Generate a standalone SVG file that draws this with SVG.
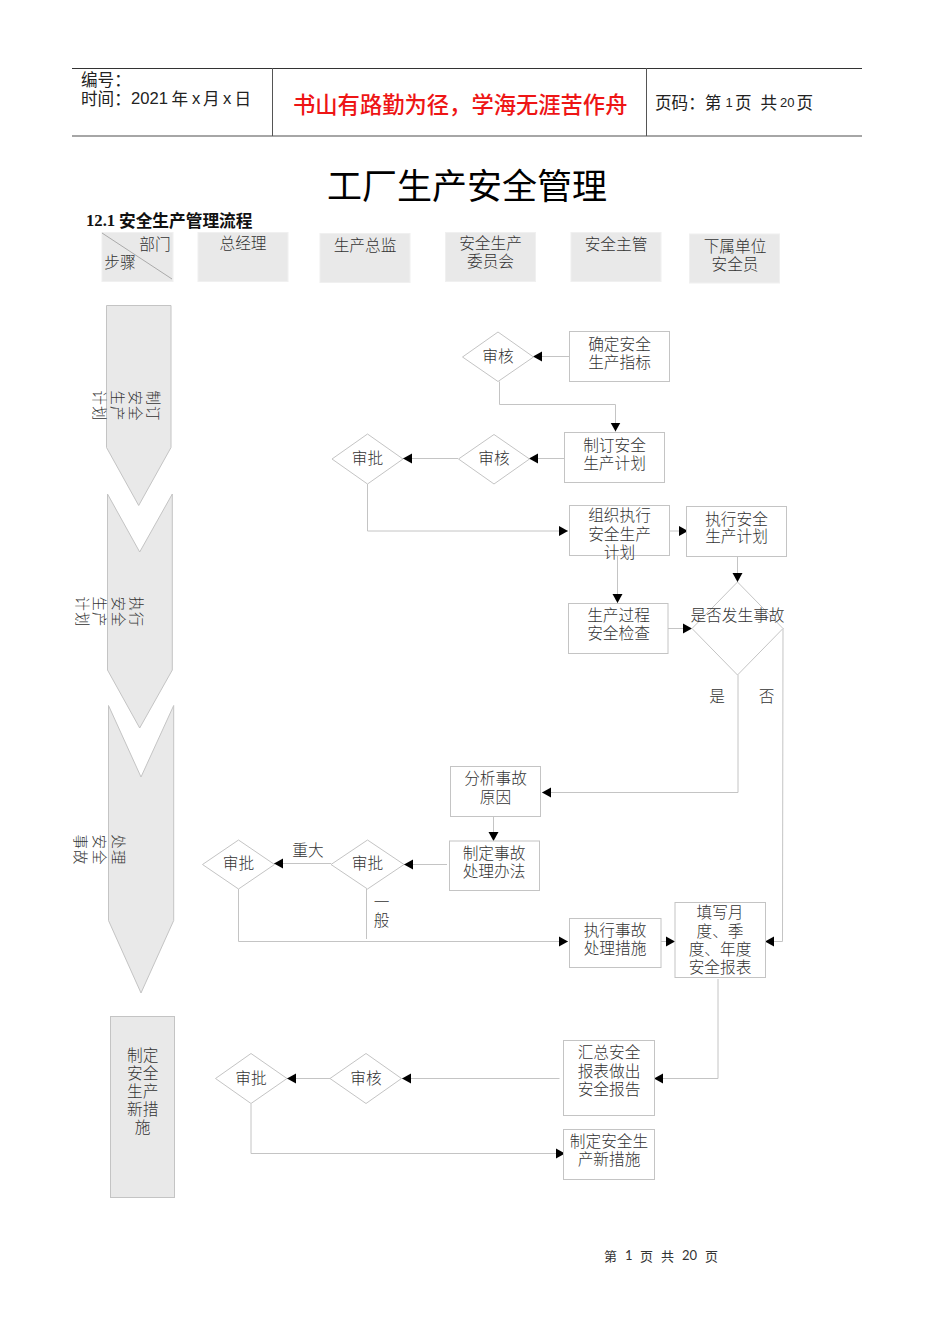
<svg xmlns="http://www.w3.org/2000/svg" width="950" height="1344" viewBox="0 0 950 1344">
<style>
text{font-family:"Noto Sans CJK SC","Liberation Sans",sans-serif;dominant-baseline:central;}
.t{font-size:15.7px;fill:#333;text-anchor:middle;font-weight:300;}
.r{font-size:14.4px;letter-spacing:1.2px;fill:#333;text-anchor:middle;font-weight:300;}
.n{fill:#fff;stroke:#c4c4c4;stroke-width:1;}
.h{fill:#e9e9e9;stroke:#f0f0f0;stroke-width:1;}
.a{fill:#e9e9e9;stroke:#c4c4c4;stroke-width:1;}
.c{fill:none;stroke:#c4c4c4;stroke-width:1;}
.e{marker-end:url(#arr);}
.hd{font-size:16.6px;fill:#222;}
.num{font-family:"Liberation Sans",sans-serif;}
</style>
<defs>
<marker id="arr" markerUnits="userSpaceOnUse" markerWidth="10" markerHeight="12" refX="9" refY="5.5" orient="auto"><path d="M0,0.5 L9,5.5 L0,10.5 Z" fill="#000"/></marker>
</defs>
<rect width="950" height="1344" fill="#fff"/>

<g id="page-header">
<path d="M72,68.5H862" stroke="#333" stroke-width="1" fill="none"/>
<path d="M72,136H862" stroke="#888" stroke-width="1.5" fill="none"/>
<path d="M272.5,68V136M646.5,68V136" stroke="#555" stroke-width="1" fill="none"/>
<text class="hd"><tspan x="81" y="79">编号：</tspan><tspan x="81" y="98">时间：</tspan><tspan class="num" x="131" y="98">2021</tspan><tspan x="171.500" y="98">年</tspan><tspan class="num" x="192" y="98">x</tspan><tspan x="203" y="98">月</tspan><tspan class="num" x="223" y="98">x</tspan><tspan x="234.500" y="98">日</tspan></text>
<text x="293" y="103" font-size="22.300" font-weight="500" fill="#ee1515">书山有路勤为径，学海无涯苦作舟</text>
<text class="hd"><tspan x="655" y="102">页码：第</tspan><tspan class="num" font-size="13" x="725.500" y="102">1</tspan><tspan x="735" y="102">页</tspan><tspan x="760.500" y="102">共</tspan><tspan class="num" font-size="13" x="780" y="102">20</tspan><tspan x="796.500" y="102">页</tspan></text>
</g>
<text x="327" y="183" font-size="35" font-weight="400" fill="#000">工厂生产安全管理</text>
<text x="86" y="219.500" font-size="16.700" font-weight="700" fill="#111"><tspan font-family="Liberation Serif">12.1</tspan> 安全生产管理流程</text>

<g id="head-step">
<rect class="h" x="102" y="232.500" width="71" height="49"/>
<path d="M102,233L172,279" stroke="#aaa" fill="none"/>
<text class="t"><tspan x="155" y="242.500">部门</tspan><tspan x="120" y="261">步骤</tspan></text>
</g>
<g id="head-gm"><rect class="h" x="198" y="232.500" width="90" height="49"/><text class="t" x="243" y="242.500">总经理</text></g>
<g id="head-director"><rect class="h" x="320" y="233.500" width="90" height="49"/><text class="t" x="365" y="244">生产总监</text></g>
<g id="head-committee"><rect class="h" x="445.500" y="232.500" width="90" height="49"/><text class="t"><tspan x="490.500" y="241.500">安全生产</tspan><tspan x="490.500" y="259.500">委员会</tspan></text></g>
<g id="head-supervisor"><rect class="h" x="571" y="232.500" width="90" height="49"/><text class="t" x="616" y="243">安全主管</text></g>
<g id="head-officer"><rect class="h" x="689.500" y="234" width="90" height="49"/><text class="t"><tspan x="735" y="244.500">下属单位</tspan><tspan x="735" y="262.500">安全员</tspan></text></g>

<g id="stage-1">
<path class="a" d="M106.500,305.500H171V447.500L138.700,505.500L106.500,447.500Z"/>
<text class="r" transform="translate(0,406) rotate(90)"><tspan x="0" y="-155">制订</tspan><tspan x="0" y="-137">安全</tspan><tspan x="0" y="-119">生产</tspan><tspan x="0" y="-101">计划</tspan></text>
</g>
<g id="stage-2">
<path class="a" d="M107.500,494L139.700,552L172.300,494V670L139.700,728L107.500,670Z"/>
<text class="r" transform="translate(0,612) rotate(90)"><tspan x="0" y="-137.500">执行</tspan><tspan x="0" y="-119.500">安全</tspan><tspan x="0" y="-101">生产</tspan><tspan x="0" y="-83.500">计划</tspan></text>
</g>
<g id="stage-3">
<path class="a" d="M108.500,705.500L141,777L173.700,705.500V920.500L141,993L108.500,920.500Z"/>
<text class="r" transform="translate(0,850) rotate(90)"><tspan x="0" y="-119.500">处理</tspan><tspan x="0" y="-100.500">安全</tspan><tspan x="0" y="-81.500">事故</tspan></text>
</g>
<g id="stage-4">
<rect class="a" x="110.500" y="1016.500" width="64" height="181"/>
<text class="t"><tspan x="142.700" y="1054">制定</tspan><tspan x="142.700" y="1072">安全</tspan><tspan x="142.700" y="1090">生产</tspan><tspan x="142.700" y="1108">新措</tspan><tspan x="142.700" y="1126">施</tspan></text>
</g>

<g id="connectors">
<path class="c e" d="M569.500,356.500H533"/>
<path class="c e" d="M499.500,381.500V404.500H615.500V431.500"/>
<path class="c e" d="M564.500,458.500H529"/>
<path class="c e" d="M458,458.500H403"/>
<path class="c e" d="M367.500,484V531H568"/>
<path class="c e" d="M669.500,531H688"/>
<path class="c e" d="M737.500,557V582"/>
<path class="c e" d="M617.500,555V603"/>
<path class="c e" d="M668,628.500H692"/>
<path class="c e" d="M738,675V792.500H542"/>
<path class="c e" d="M783,628L782.500,941.500H765"/>
<path class="c e" d="M493.500,816V841"/>
<path class="c e" d="M447,864.500H404"/>
<path class="c e" d="M331,863.500H274"/>
<path class="c" d="M366.500,889V939"/>
<path class="c e" d="M238.500,889V941.500H568"/>
<path class="c e" d="M661,941.500H675"/>
<path class="c e" d="M718,979V1078.500H654"/>
<path class="c e" d="M559.500,1078.500H402"/>
<path class="c e" d="M330,1078.500H287"/>
<path class="c e" d="M251,1104V1153.500H565"/>
</g>

<g id="n-target"><rect class="n" x="569.500" y="331.500" width="100" height="50"/><text class="t"><tspan x="619.500" y="343">确定安全</tspan><tspan x="619.500" y="361">生产指标</tspan></text></g>
<g id="n-review1"><path class="n" d="M498,332L533.500,357L498,381.500L462.500,357Z"/><text class="t" x="498" y="355">审核</text></g>
<g id="n-plan"><rect class="n" x="564.500" y="432.500" width="100" height="50"/><text class="t"><tspan x="614.500" y="443.500">制订安全</tspan><tspan x="614.500" y="461.500">生产计划</tspan></text></g>
<g id="n-review2"><path class="n" d="M494,434.500L529.500,459L494,484L458.500,459Z"/><text class="t" x="494" y="457">审核</text></g>
<g id="n-approve1"><path class="n" d="M367.500,434L403,459L367.500,484L332,459Z"/><text class="t" x="367.500" y="457">审批</text></g>
<g id="n-organize"><rect class="n" x="569.500" y="505.500" width="100" height="50"/><text class="t"><tspan x="619.500" y="514">组织执行</tspan><tspan x="619.500" y="533">安全生产</tspan><tspan x="619.500" y="551">计划</tspan></text></g>
<g id="n-execute"><rect class="n" x="686.500" y="506.500" width="100" height="50"/><text class="t"><tspan x="736.500" y="517.500">执行安全</tspan><tspan x="736.500" y="535">生产计划</tspan></text></g>
<g id="n-inspect"><rect class="n" x="568.500" y="603.500" width="99.500" height="50"/><text class="t"><tspan x="618.500" y="614">生产过程</tspan><tspan x="618.500" y="632">安全检查</tspan></text></g>
<g id="n-accident"><path class="n" d="M737.500,582L783,628.500L737.500,675L692,628.500Z"/><text class="t" x="737.500" y="614">是否发生事故</text></g>
<text class="t" x="717" y="695">是</text>
<text class="t" x="766.500" y="695">否</text>
<g id="n-analyze"><rect class="n" x="450.500" y="766.500" width="90" height="50"/><text class="t"><tspan x="495.500" y="777">分析事故</tspan><tspan x="495.500" y="795.500">原因</tspan></text></g>
<g id="n-method"><rect class="n" x="449.500" y="841" width="90" height="49.500"/><text class="t"><tspan x="494" y="852">制定事故</tspan><tspan x="494" y="870">处理办法</tspan></text></g>
<g id="n-approve2"><path class="n" d="M367.500,840L404,864.500L367.500,889L331,864.500Z"/><text class="t" x="367.500" y="862.500">审批</text></g>
<g id="n-approve3"><path class="n" d="M238.500,840L274.500,864.500L238.500,889L202.500,864.500Z"/><text class="t" x="238.500" y="862.500">审批</text></g>
<text class="t" x="308" y="849">重大</text>
<text class="t"><tspan x="381.500" y="901">一</tspan><tspan x="381.500" y="919">般</tspan></text>
<g id="n-measure"><rect class="n" x="569.500" y="918.500" width="91.500" height="49"/><text class="t"><tspan x="615" y="929">执行事故</tspan><tspan x="615" y="947">处理措施</tspan></text></g>
<g id="n-report"><rect class="n" x="675" y="902.500" width="90.500" height="75"/><text class="t"><tspan x="720" y="911">填写月</tspan><tspan x="720" y="930">度、季</tspan><tspan x="720" y="948">度、年度</tspan><tspan x="720" y="966">安全报表</tspan></text></g>
<g id="n-summary"><rect class="n" x="563.500" y="1040.500" width="91" height="75"/><text class="t"><tspan x="609" y="1051">汇总安全</tspan><tspan x="609" y="1070">报表做出</tspan><tspan x="609" y="1088">安全报告</tspan></text></g>
<g id="n-review3"><path class="n" d="M366,1053.500L401.500,1078.500L366,1103.500L330,1078.500Z"/><text class="t" x="366" y="1077">审核</text></g>
<g id="n-approve4"><path class="n" d="M251,1053.500L287,1078.500L251,1103.500L215.500,1078.500Z"/><text class="t" x="251" y="1077">审批</text></g>
<g id="n-new"><rect class="n" x="563.500" y="1129.500" width="91" height="50"/><text class="t"><tspan x="609" y="1140">制定安全生</tspan><tspan x="609" y="1158">产新措施</tspan></text></g>

<text font-size="13" fill="#333"><tspan x="604" y="1255">第</tspan><tspan font-family="Lato,'Liberation Sans'" x="625" y="1255">1</tspan><tspan x="640" y="1255">页</tspan><tspan x="661" y="1255">共</tspan><tspan font-family="Lato,'Liberation Sans'" x="682" y="1255">20</tspan><tspan x="705" y="1255">页</tspan></text>
</svg>
